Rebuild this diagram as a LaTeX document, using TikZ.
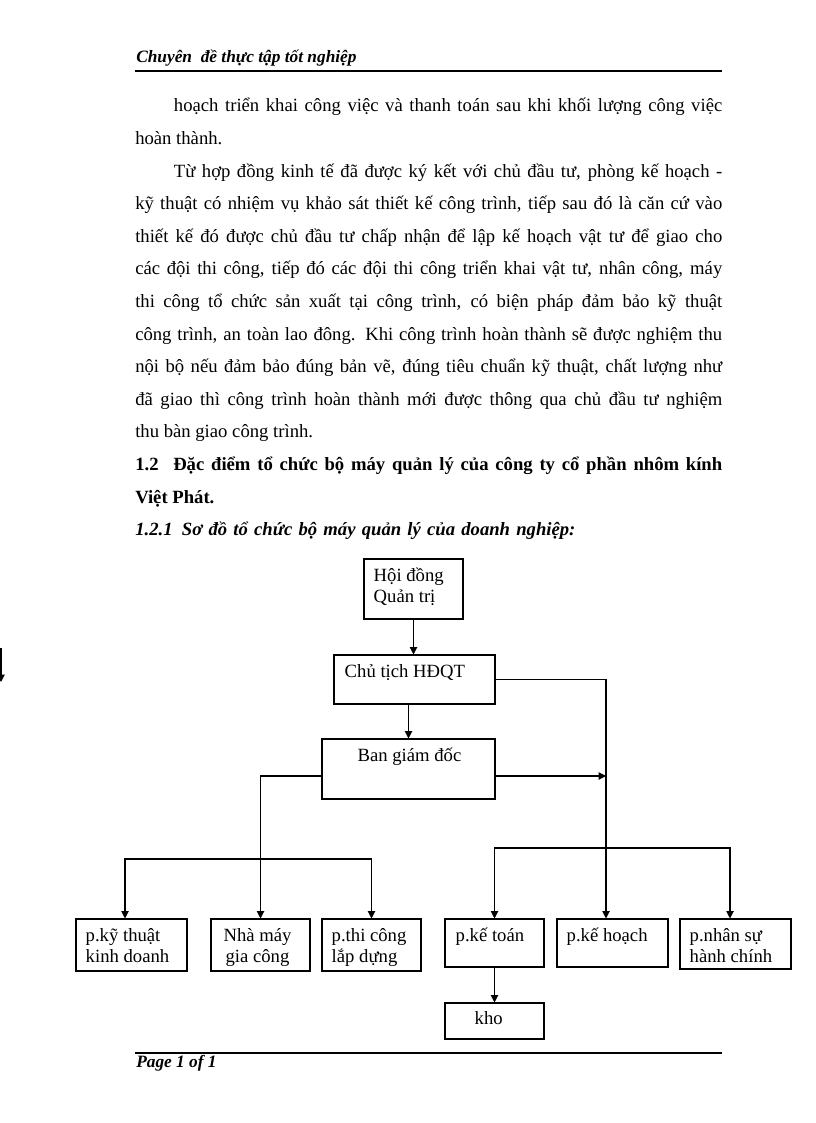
\documentclass[tikz,border=0pt]{standalone}
\usepackage{fontspec}
\setmainfont{Liberation Serif}
\usetikzlibrary{arrows.meta,positioning,calc,fit}
\definecolor{ink}{HTML}{000000}
\definecolor{paper}{HTML}{FFFFFF}

\begin{document}
\begin{tikzpicture}[
  x=0.75pt, y=-0.75pt,
  >={Triangle[length=5.5pt,width=5.5pt]},
  runner/.style={anchor=base west, inner sep=0pt, text=ink,
    font=\fontsize{13}{15}\selectfont\bfseries\itshape},
  rule/.style={line width=1.5pt, draw=ink},
  body/.style={anchor=base west, inner sep=0pt, text width=440.25pt,
    align=justify, text=ink, font=\fontsize{14}{24.45}\selectfont},
  unit/.style={draw=ink, line width=0.8pt, inner sep=0pt},
  unittxt/.style={anchor=base west, inner sep=0pt, align=left, text=ink,
    font=\fontsize{14}{15.75}\selectfont},
  link/.style={->, line width=0.8pt, draw=ink}
]

\path[use as bounding box, fill=paper] (0,0) rectangle (816,1123);

% header and footer
\node[runner] (header) at (136,63) {Chuyên\ \ đề thực tập tốt nghiệp};
\draw[rule] (135,71) -- (722,71);
\draw[rule] (135,1053) -- (722,1053);
\node[runner] (footer) at (136,1067) {Page 1 of 1};

% text
\node[body] (para1) at (135,112) {\hspace*{29pt}hoạch triển khai công việc và thanh toán sau khi khối lượng công việc\linebreak hoàn thành.};
\node[body] (para2) at (135,177.2) {\hspace*{29pt}Từ hợp đồng kinh tế đã được ký kết với chủ đầu tư, phòng kế hoạch -\linebreak
  kỹ thuật có nhiệm vụ khảo sát thiết kế công trình, tiếp sau đó là căn cứ vào\linebreak
  thiết kế đó được chủ đầu tư chấp nhận để lập kế hoạch vật tư để giao cho\linebreak
  các đội thi công, tiếp đó các đội thi công triển khai vật tư, nhân công, máy\linebreak
  thi công tổ chức sản xuất tại công trình, có biện pháp đảm bảo kỹ thuật\linebreak
  công trình, an toàn lao đông. Khi công trình hoàn thành sẽ được nghiệm thu\linebreak
  nội bộ nếu đảm bảo đúng bản vẽ, đúng tiêu chuẩn kỹ thuật, chất lượng như\linebreak
  đã giao thì công trình hoàn thành mới được thông qua chủ đầu tư nghiệm\linebreak
  thu bàn giao công trình.};
\node[body, font=\fontsize{14}{24.45}\selectfont\bfseries] (sec12) at (135,470.6)
  {1.2\hspace{11pt}Đặc điểm tổ chức bộ máy quản lý của công ty cổ phần nhôm kính\linebreak Việt Phát.};
\node[body, align=left, font=\fontsize{14}{24.45}\selectfont\bfseries\itshape] (sec121) at (135,535.8)
  {1.2.1\hspace{7pt}Sơ đồ tổ chức bộ máy quản lý của doanh nghiệp:};

% boxes
\node[unit, fit={(364,559) (463,619)}] (board) {};
\node[unit, fit={(334,655) (495,704)}] (chair) {};
\node[unit, fit={(322,739) (495,799)}] (ban) {};
\node[unit, fit={(76,919) (187,971)}] (kythuat) {};
\node[unit, fit={(211,919) (310,971)}] (nhamay) {};
\node[unit, fit={(322,919) (421,971)}] (thicong) {};
\node[unit, fit={(445,919) (544,967)}] (ketoan) {};
\node[unit, fit={(557,919) (668,967)}] (kehoach) {};
\node[unit, fit={(680,919) (791,969)}] (nhansu) {};
\node[unit, fit={(445,1003) (544,1039)}] (kho) {};

% two-line labels sit on their last baseline
\node[unittxt] (board-t) at ($(board.north west)+(10,44)$) {Hội đồng\\Quản trị};
\node[unittxt] (chair-t) at ($(chair.north west)+(11,23)$) {Chủ tịch HĐQT};
\node[unittxt, anchor=base] (ban-t) at ($(ban.north)+(1,23)$) {Ban giám đốc};
\node[unittxt] (kythuat-t) at ($(kythuat.north west)+(10,44)$) {p.kỹ thuật\\kinh doanh};
\node[unittxt, align=center, anchor=base] (nhamay-t) at ($(nhamay.north)+(-3,44)$) {Nhà máy\\gia công};
\node[unittxt] (thicong-t) at ($(thicong.north west)+(10,44)$) {p.thi công\\lắp dựng};
\node[unittxt] (ketoan-t) at ($(ketoan.north west)+(11,23)$) {p.kế toán};
\node[unittxt] (kehoach-t) at ($(kehoach.north west)+(10,23)$) {p.kế hoạch};
\node[unittxt] (nhansu-t) at ($(nhansu.north west)+(10,44)$) {p.nhân sự\\hành chính};
\node[unittxt] (kho-t) at ($(kho.north west)+(30,22)$) {kho};

% connectors
\coordinate (midrow) at (0,776);
\coordinate (lbus) at (0,859);
\coordinate (rbus) at (0,848);
\coordinate (rtrunk) at (606,0);
\coordinate (ldrop) at (125,0);
\coordinate (rdrop) at (730,0);
\coordinate (edge) at (1,648);

\draw[link] (board.south) -- (board.south |- chair.north);
\draw[link] (ban.north |- chair.south) -- (ban.north);
\draw[link] (chair.east) -| (rtrunk |- kehoach.north);
\draw[link] (ban.east |- midrow) -- (rtrunk |- midrow);
\draw[link] (ban.west |- midrow) -| (nhamay.north);
\draw[link] (nhamay.north |- lbus) -| (ldrop |- kythuat.north);
\draw[link] (nhamay.north |- lbus) -| (thicong.north);
\draw[link] (rtrunk |- rbus) -| (ketoan.north);
\draw[link] (rtrunk |- rbus) -| (rdrop |- nhansu.north);
\draw[link] (ketoan.south) -- (kho.north);
\draw[link] (edge) -- ++(0,34);

\end{tikzpicture}
\end{document}
